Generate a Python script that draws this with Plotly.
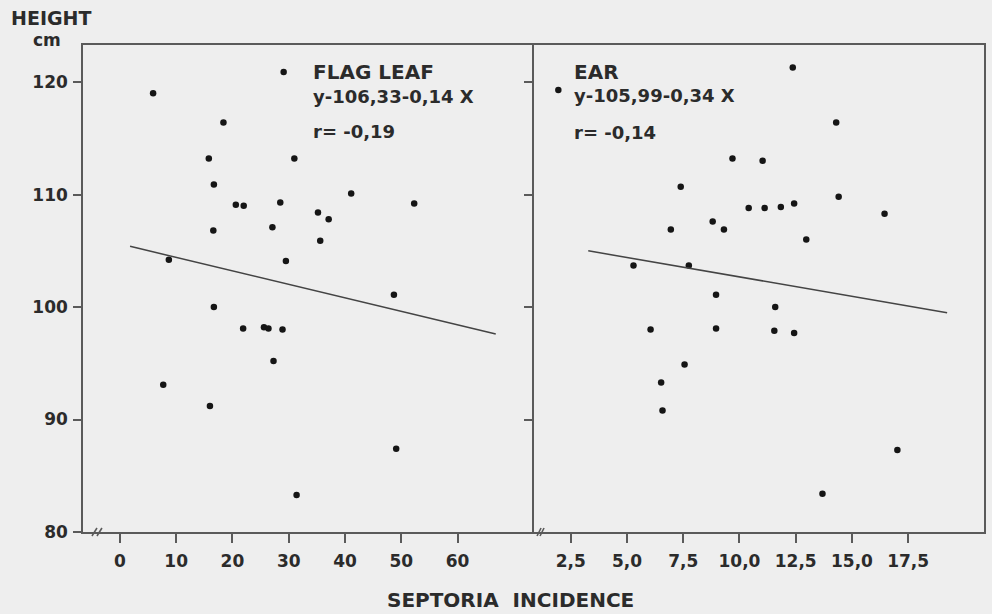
import plotly.graph_objects as go

# ---------------- data ----------------
FLAG_X = [5.9, 29.1, 18.4, 15.8, 31.0, 16.7, 41.1, 20.6, 22.0, 28.5, 52.3, 35.2, 37.1,
          16.6, 27.1, 35.6, 8.7, 29.5, 48.7, 16.7, 21.9, 25.6, 26.4, 28.9, 27.3, 7.7,
          16.0, 49.1, 31.4]
FLAG_Y = [119.0, 120.9, 116.4, 113.2, 113.2, 110.9, 110.1, 109.1, 109.0, 109.3, 109.2,
          108.4, 107.8, 106.8, 107.1, 105.9, 104.2, 104.1, 101.1, 100.0, 98.1, 98.2,
          98.1, 98.0, 95.2, 93.1, 91.2, 87.4, 83.3]
FLAG_FIT_X = [1.8, 66.8]
FLAG_FIT_Y = [105.4, 97.6]

EAR_X = [1.95, 12.37, 14.3, 9.69, 11.03, 7.39, 14.41, 16.45, 10.41, 11.12, 11.84, 12.43,
         8.81, 9.31, 6.95, 12.97, 5.29, 7.75, 8.96, 11.59, 6.05, 8.96, 11.55, 12.43,
         7.56, 6.52, 6.58, 17.02, 13.69]
EAR_Y = [119.3, 121.3, 116.4, 113.2, 113.0, 110.7, 109.8, 108.3, 108.8, 108.8, 108.9,
         109.2, 107.6, 106.9, 106.9, 106.0, 103.7, 103.7, 101.1, 100.0, 98.0, 98.1,
         97.9, 97.7, 94.9, 93.3, 90.8, 87.3, 83.4]
EAR_FIT_X = [3.28, 19.23]
EAR_FIT_Y = [105.0, 99.5]

Y_TICKS = [80, 90, 100, 110, 120]
FLAG_TICKS = [0, 10, 20, 30, 40, 50, 60]
EAR_TICKS = [2.5, 5.0, 7.5, 10.0, 12.5, 15.0, 17.5]
EAR_TICK_TEXT = ["2,5", "5,0", "7,5", "10,0", "12,5", "15,0", "17,5"]

FLAG_LABELS = ["FLAG LEAF", "y-106,33-0,14 X", "r= -0,19"]
EAR_LABELS = ["EAR", "y-105,99-0,34 X", "r= -0,14"]
Y_TITLE = ["HEIGHT", "cm"]
X_TITLE = "SEPTORIA  INCIDENCE"

# ---------------- style ----------------
BG = "#eeeeee"
INK = "#2b2b2b"
LINE = "#5a5a5a"
FONT = "DejaVu Sans"
SPLIT = 0.5006

fig = go.Figure()

fig.add_trace(go.Scatter(x=FLAG_X, y=FLAG_Y, mode="markers", xaxis="x", yaxis="y",
                         marker=dict(size=6.5, color="#151515"), showlegend=False))
fig.add_trace(go.Scatter(x=FLAG_FIT_X, y=FLAG_FIT_Y, mode="lines", xaxis="x", yaxis="y",
                         line=dict(color="#444444", width=1.5), showlegend=False))
fig.add_trace(go.Scatter(x=EAR_X, y=EAR_Y, mode="markers", xaxis="x2", yaxis="y2",
                         marker=dict(size=6.5, color="#151515"), showlegend=False))
fig.add_trace(go.Scatter(x=EAR_FIT_X, y=EAR_FIT_Y, mode="lines", xaxis="x2", yaxis="y2",
                         line=dict(color="#444444", width=1.5), showlegend=False))

tickfont = dict(family=FONT, size=17, color=INK, weight="bold")
common_axis = dict(showgrid=False, zeroline=False, showline=True, linecolor=LINE,
                   linewidth=1.6, tickcolor=LINE, tickwidth=1.6, tickfont=tickfont)

fig.update_layout(
    width=992, height=614,
    margin=dict(l=83, r=6, t=45, b=82),
    paper_bgcolor=BG, plot_bgcolor=BG,
    xaxis=dict(domain=[0, SPLIT], range=[-6.56, 73.6], tickvals=FLAG_TICKS,
               ticks="outside", ticklen=9, mirror=True, anchor="y",
               ticklabelstandoff=4, **common_axis),
    xaxis2=dict(domain=[SPLIT, 1], range=[0.87, 20.87], tickvals=EAR_TICKS,
                ticktext=EAR_TICK_TEXT, ticks="outside", ticklen=9, mirror=True,
                anchor="y2", ticklabelstandoff=4, **common_axis),
    yaxis=dict(domain=[0, 1], range=[80, 123.3], tickvals=Y_TICKS, ticks="outside",
               ticklen=8, anchor="x", mirror=False, ticklabelstandoff=2, **common_axis),
    yaxis2=dict(domain=[0, 1], range=[80, 123.3], tickvals=Y_TICKS[1:], ticks="outside",
                ticklen=8, anchor="x2", showticklabels=False, mirror=True, **common_axis),
)

ann = []
# panel labels
for i, (txt, yv) in enumerate(zip(FLAG_LABELS, [120.9, 118.7, 115.6])):
    ann.append(dict(x=33.9, y=yv, xref="x", yref="y", text=txt, showarrow=False,
                    xanchor="left", yanchor="middle",
                    font=dict(family=FONT, size=20 if i == 0 else 18, color=INK,
                              weight="bold")))
for i, (txt, yv) in enumerate(zip(EAR_LABELS, [120.9, 118.8, 115.5])):
    ann.append(dict(x=2.55, y=yv, xref="x2", yref="y2", text=txt, showarrow=False,
                    xanchor="left", yanchor="middle",
                    font=dict(family=FONT, size=20 if i == 0 else 18, color=INK,
                              weight="bold")))
# axis titles
ann.append(dict(x=-0.0354, y=1.0555, xref="paper", yref="paper", text=Y_TITLE[0],
                showarrow=False, xanchor="center", yanchor="middle",
                font=dict(family=FONT, size=19, color=INK, weight="bold")))
ann.append(dict(x=-0.0400, y=1.0103, xref="paper", yref="paper", text=Y_TITLE[1],
                showarrow=False, xanchor="center", yanchor="middle",
                font=dict(family=FONT, size=17, color=INK, weight="bold")))
ann.append(dict(x=0.475, y=-0.1396, xref="paper", yref="paper", text=X_TITLE,
                showarrow=False, xanchor="center", yanchor="middle",
                font=dict(family=FONT, size=20, color=INK, weight="bold")))
fig.update_layout(annotations=ann)

# axis break marks "//"
shapes = []
for xr, yr, pairs in [("x domain", "y domain", [(0.0199, 0.031), (0.031, 0.042)]),
                      ("x2 domain", "y2 domain", [(0.0067, 0.0155), (0.0133, 0.0222)])]:
    for a, b in pairs:
        shapes.append(dict(type="line", xref=xr, yref=yr, x0=a, x1=b, y0=-0.0082, y1=0.0082,
                           line=dict(color=LINE, width=1.6)))
fig.update_layout(shapes=shapes)

fig.write_html("out.html",
               config={"displayModeBar": False},
               post_script="document.body.style.margin='0';"
                           "document.body.style.overflow='hidden';"
                           "document.body.style.background='#eeeeee';")
